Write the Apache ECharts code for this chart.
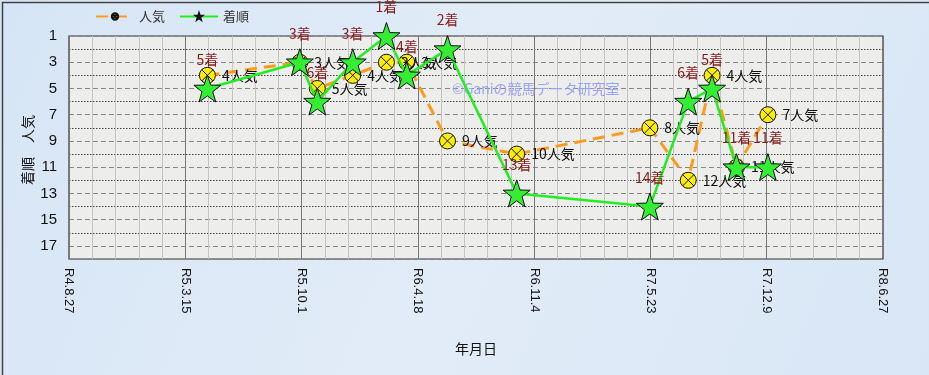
<!DOCTYPE html>
<html>
<head>
<meta charset="utf-8">
<script src="https://cdn.jsdelivr.net/npm/echarts@6/dist/echarts.min.js"></script>
<style>
html,body{margin:0;padding:0;background:#dce8f6;}
#c{width:929px;height:375px;}
</style>
</head>
<body>
<div id="c"></div>
<script>
// ---- data ----
const raceDates = ['2023-04-22','2023-09-28','2023-10-28','2023-12-28','2024-02-24','2024-03-30','2024-06-08','2024-10-05','2025-05-22','2025-07-27','2025-09-06','2025-10-18','2025-12-11'];
const popularity = [4,3,5,4,3,3,9,10,8,12,4,11,7];   // 人気
const finish     = [5,3,6,3,1,4,2,13,14,6,5,11,11];  // 着順
const axisStart = '2022-08-27';
const tickStepDays = 200;
const xTickLabels = ['R4.8.27','R5.3.15','R5.10.1','R6.4.18','R6.11.4','R7.5.23','R7.12.9','R8.6.27'];
const yMin = 1, yMax = 18;
const yAxisTitle = '着順　人気';

function dayOffset(s){
  const p = s.split('-').map(Number);
  const b = axisStart.split('-').map(Number);
  return Math.round((Date.UTC(p[0],p[1]-1,p[2]) - Date.UTC(b[0],b[1]-1,b[2]))/86400000);
}
const xs = raceDates.map(dayOffset);
const popData = xs.map((x,i)=>[x, popularity[i]]);
const finData = xs.map((x,i)=>[x, finish[i]]);

const FONT = '"Noto Sans CJK JP", "Noto Sans", sans-serif';
const circleX = 'path://M0,-10A10,10 0 1,1 0,10A10,10 0 1,1 0,-10Z M-7.07,-7.07L7.07,7.07 M7.07,-7.07L-7.07,7.07';
const starPath = 'path://M0,-10L2.35,-3.24L9.51,-3.09L3.8,1.24L5.88,8.09L0,4L-5.88,8.09L-3.8,1.24L-9.51,-3.09L-2.35,-3.24Z';

const chart = echarts.init(document.getElementById('c'), null, {renderer:'canvas'});
chart.setOption({
  animation: false,
  backgroundColor: new echarts.graphic.LinearGradient(0,0,1,1,[
    {offset:0,color:'#d6e5f5'},{offset:0.5,color:'#e2ecf8'},{offset:1,color:'#d8e6f5'}
  ]),
  textStyle: {fontFamily: FONT},
  legend: {
    left: 90, top: 5,
    itemWidth: 38, itemHeight: 8, itemGap: 14,
    textStyle: {fontSize: 13, color: '#333', fontFamily: FONT},
    data: ['人気','着順']
  },
  grid: {
    left: 69, right: 46, top: 36, bottom: 116,
    show: true, backgroundColor: '#ededec', borderColor: '#333', borderWidth: 1.2
  },
  xAxis: {
    type: 'value', min: 0, max: tickStepDays*(xTickLabels.length-1), interval: tickStepDays,
    name: '年月日', nameLocation: 'middle', nameGap: 83,
    nameTextStyle: {fontSize: 14, color: '#111', fontFamily: FONT},
    axisLine: {show: false},
    axisTick: {show: false},
    axisLabel: {
      rotate: -90, margin: 9, fontSize: 13, color: '#111', fontFamily: 'Arial, "Liberation Sans", sans-serif',
      formatter: v => xTickLabels[Math.round(v/tickStepDays)] || ''
    },
    splitLine: {show: true, lineStyle: {color: '#777', width: 1, type: 'solid'}},
    minorTick: {show: false, splitNumber: 5},
    minorSplitLine: {show: true, lineStyle: {color: '#c4c4c4', width: 1}}
  },
  yAxis: {
    type: 'value', inverse: true, min: yMin, max: yMax, interval: 2,
    axisLine: {show: false},
    axisTick: {show: false},
    axisLabel: {margin: 12, fontSize: 15, color: '#111', fontFamily: 'Arial, "Liberation Sans", sans-serif'},
    splitLine: {show: true, lineStyle: {color: '#888', width: 1, type: [5,3]}},
    minorTick: {show: false, splitNumber: 2},
    minorSplitLine: {show: true, lineStyle: {color: '#444', width: 1, type: [1.5,1.5]}}
  },
  graphic: [
    {type: 'text', x: 28, y: 150, rotation: Math.PI/2, z: 5, silent: true,
     style: {text: yAxisTitle, fill: '#111', font: '14px ' + FONT, align: 'center', verticalAlign: 'middle'}},
    {type: 'text', left: 452, top: 82, z: 1, silent: true,
     style: {text: '©Ganiの競馬データ研究室', fill: '#9aa2ff', font: '14px ' + FONT}},
    {type: 'rect', left: 0, top: 0, z: 100, silent: true,
     shape: {x: 0.5, y: 0.5, width: 928, height: 374},
     style: {fill: 'none', stroke: '#444', lineWidth: 1.5}}
  ],
  series: [
    {
      name: '人気', type: 'line', data: popData, z: 3,
      symbol: circleX, symbolSize: 16,
      itemStyle: {color: '#ffee00', borderColor: '#111', borderWidth: 1},
      lineStyle: {color: '#ff9a1a', width: 3, type: [12,7]},
      label: {show: true, position: 'right', distance: 6, fontSize: 14, color: '#111', fontFamily: FONT,
        formatter: p => p.value[1] + '人気'}
    },
    {
      name: '着順', type: 'line', data: finData, z: 4,
      symbol: starPath, symbolSize: 27,
      itemStyle: {color: '#33ee33', borderColor: '#111', borderWidth: 1},
      lineStyle: {color: '#22ee22', width: 2.5},
      label: {show: true, position: 'top', distance: 8, fontSize: 14, color: '#8b1a1a', fontFamily: FONT,
        formatter: p => p.value[1] + '着'}
    }
  ]
});
</script>
</body>
</html>
